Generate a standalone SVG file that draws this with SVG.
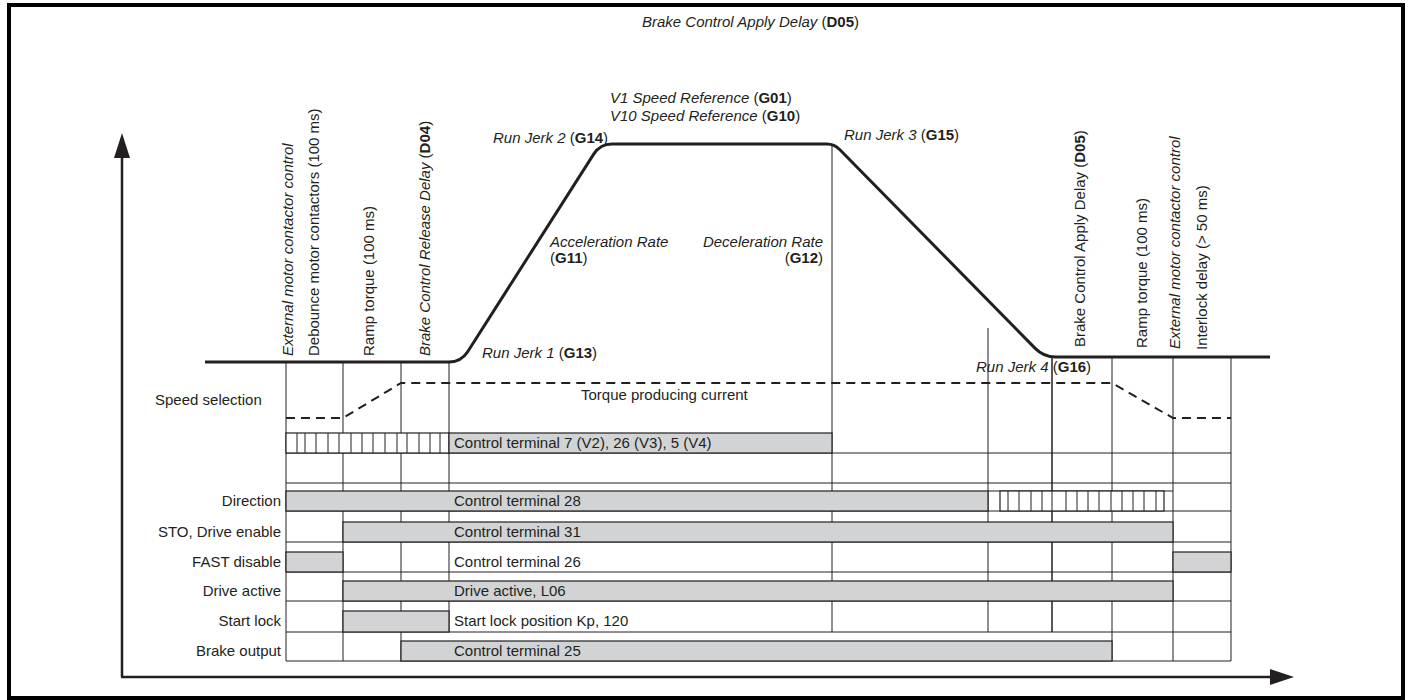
<svg xmlns="http://www.w3.org/2000/svg" width="1412" height="700" viewBox="0 0 1412 700">
  <style>
    .t { font-family: "Liberation Sans", Arial, Helvetica, sans-serif; font-size: 15px; fill: #231f20; }
    .i { font-style: italic; }
    .b { font-weight: bold; }
    .end { text-anchor: end; }
    .grid { stroke: #231f20; stroke-width: 1; fill: none; }
    .bar { fill: #d1d3d4; stroke: #231f20; stroke-width: 1.2; }
    .hatch { fill: #ffffff; stroke: #231f20; stroke-width: 1.2; }
    .tick { stroke: #231f20; stroke-width: 1; }
    .curve { fill: none; stroke: #231f20; stroke-width: 3; stroke-linejoin: round; }
    .dash { fill: none; stroke: #231f20; stroke-width: 2; stroke-dasharray: 9 6; }
    .axis { stroke: #231f20; stroke-width: 2.5; }
  </style>
  <defs>
    <!-- hatch ticks of an undefined / selecting input -->
    <path id="ticksSpeed" class="tick" d="M297,433V453M305,433V453M316,433V453M328,433V453M339,433V453M351,433V453M362,433V453M373,433V453M385,433V453M397,433V453M407,433V453M419,433V453M430,433V453M440,433V453"/>
    <path id="ticksDir" class="tick" d="M1008,491V511M1019,491V511M1031,491V511M1042,491V511M1052,491V511M1066,491V511M1077,491V511M1088,491V511M1099,491V511M1111,491V511M1122,491V511M1133,491V511M1144,491V511M1156,491V511"/>
  </defs>

  <rect width="1412" height="700" fill="#ffffff"/>

  <!-- outer frame -->
  <rect id="frame" x="9" y="5" width="1394" height="693" fill="none" stroke="#000" stroke-width="4"/>

  <!-- axes -->
  <g id="axes">
    <line class="axis" x1="122" y1="156" x2="122" y2="677"/>
    <line class="axis" x1="121" y1="677" x2="1272" y2="677"/>
    <polygon points="122,133 114,158 130,158" fill="#231f20"/>
    <polygon points="1294,677 1270,669 1270,685" fill="#231f20"/>
  </g>

  <!-- table grid -->
  <g id="grid" class="grid">
    <path d="M286,362V661M343,362V661M401,362V661M449,362V632M832,144V632M988,328V632M1112,357V661M1173,357V661M1231,357V661"/>
    <path d="M1052,357V632" stroke-width="1.5"/>
    <path d="M286,453H1231M286,483H1231M286,511H1231M286,542H1231M286,572H1231M286,601H1231M286,632H1231M286,661H1231"/>
  </g>

  <!-- speed profile -->
  <g id="speed-profile">
    <path class="curve" d="M205,362H449Q461,362 467.5,352L593.7,154.1Q600.2,144 612,144H827Q834.3,144 839.9,149.7L1035.2,348.4Q1043.6,357 1055.6,357H1270"/>
    <text class="t i" x="610" y="103">V1 Speed Reference <tspan font-style="normal">(</tspan><tspan class="b" font-style="normal">G01</tspan><tspan font-style="normal">)</tspan></text>
    <text class="t i" x="610" y="121">V10 Speed Reference <tspan font-style="normal">(</tspan><tspan class="b" font-style="normal">G10</tspan><tspan font-style="normal">)</tspan></text>
    <text class="t" x="493" y="143"><tspan class="i">Run Jerk 2</tspan> (<tspan class="b">G14</tspan>)</text>
    <text class="t" x="844" y="140"><tspan class="i">Run Jerk 3</tspan> (<tspan class="b">G15</tspan>)</text>
    <text class="t" x="482" y="358"><tspan class="i">Run Jerk 1</tspan> (<tspan class="b">G13</tspan>)</text>
    <text class="t" x="976" y="372"><tspan class="i">Run Jerk 4</tspan> (<tspan class="b">G16</tspan>)</text>
    <text class="t i" x="550" y="247">Acceleration Rate</text>
    <text class="t" x="550" y="263">(<tspan class="b">G11</tspan>)</text>
    <text class="t i end" x="823" y="247">Deceleration Rate</text>
    <text class="t end" x="823" y="263">(<tspan class="b">G12</tspan>)</text>
    <text class="t" x="642" y="27"><tspan class="i">Brake Control Apply Delay</tspan> (<tspan class="b">D05</tspan>)</text>
  </g>

  <!-- start sequence events -->
  <g id="start-events">
    <text class="t i" transform="translate(293,356) rotate(-90)">External motor contactor control</text>
    <text class="t" transform="translate(318.5,356) rotate(-90)">Debounce motor contactors (100 ms)</text>
    <text class="t" transform="translate(373.5,356) rotate(-90)">Ramp torque (100 ms)</text>
    <text class="t" transform="translate(429.5,356) rotate(-90)"><tspan class="i">Brake Control Release Delay</tspan> (<tspan class="b">D04</tspan>)</text>
  </g>

  <!-- stop sequence events -->
  <g id="stop-events">
    <text class="t" transform="translate(1085,347) rotate(-90)">Brake Control Apply Delay (<tspan class="b">D05</tspan>)</text>
    <text class="t" transform="translate(1147,348) rotate(-90)">Ramp torque (100 ms)</text>
    <text class="t i" transform="translate(1179.5,349) rotate(-90)">External motor contactor control</text>
    <text class="t" transform="translate(1207,350) rotate(-90)">Interlock delay (&gt; 50 ms)</text>
  </g>

  <!-- torque producing current -->
  <g id="torque">
    <path class="dash" d="M286,418H343L401,383H1112L1173,418H1231"/>
    <text class="t" x="581" y="400">Torque producing current</text>
  </g>

  <!-- signal rows -->
  <g id="row-speed-selection">
    <text class="t" x="155" y="405">Speed selection</text>
    <rect class="hatch" x="286" y="433" width="163" height="20"/>
    <use href="#ticksSpeed"/>
    <rect class="bar" x="449" y="433" width="383" height="20"/>
    <text class="t" x="454" y="448">Control terminal 7 (V2), 26 (V3), 5 (V4)</text>
  </g>

  <g id="row-direction">
    <text class="t end" x="281" y="506">Direction</text>
    <rect class="bar" x="286" y="491" width="702" height="20"/>
    <path class="grid" d="M988,491H1173"/>
    <rect class="hatch" x="1000" y="491" width="164" height="20"/>
    <use href="#ticksDir"/>
    <text class="t" x="454" y="506">Control terminal 28</text>
  </g>

  <g id="row-sto">
    <text class="t end" x="281" y="537">STO, Drive enable</text>
    <rect class="bar" x="343" y="522" width="830" height="20"/>
    <text class="t" x="454" y="537">Control terminal 31</text>
  </g>

  <g id="row-fast-disable">
    <text class="t end" x="281" y="567">FAST disable</text>
    <rect class="bar" x="286" y="552" width="57" height="20"/>
    <rect class="bar" x="1173" y="552" width="58" height="20"/>
    <text class="t" x="454" y="567">Control terminal 26</text>
  </g>

  <g id="row-drive-active">
    <text class="t end" x="281" y="596">Drive active</text>
    <rect class="bar" x="343" y="581" width="830" height="20"/>
    <text class="t" x="454" y="596">Drive active, L06</text>
  </g>

  <g id="row-start-lock">
    <text class="t end" x="281" y="626">Start lock</text>
    <rect class="bar" x="343" y="611" width="106" height="21"/>
    <text class="t" x="454" y="626">Start lock position Kp, 120</text>
  </g>

  <g id="row-brake-output">
    <text class="t end" x="281" y="656">Brake output</text>
    <rect class="bar" x="401" y="641" width="711" height="20"/>
    <text class="t" x="454" y="656">Control terminal 25</text>
  </g>
</svg>
